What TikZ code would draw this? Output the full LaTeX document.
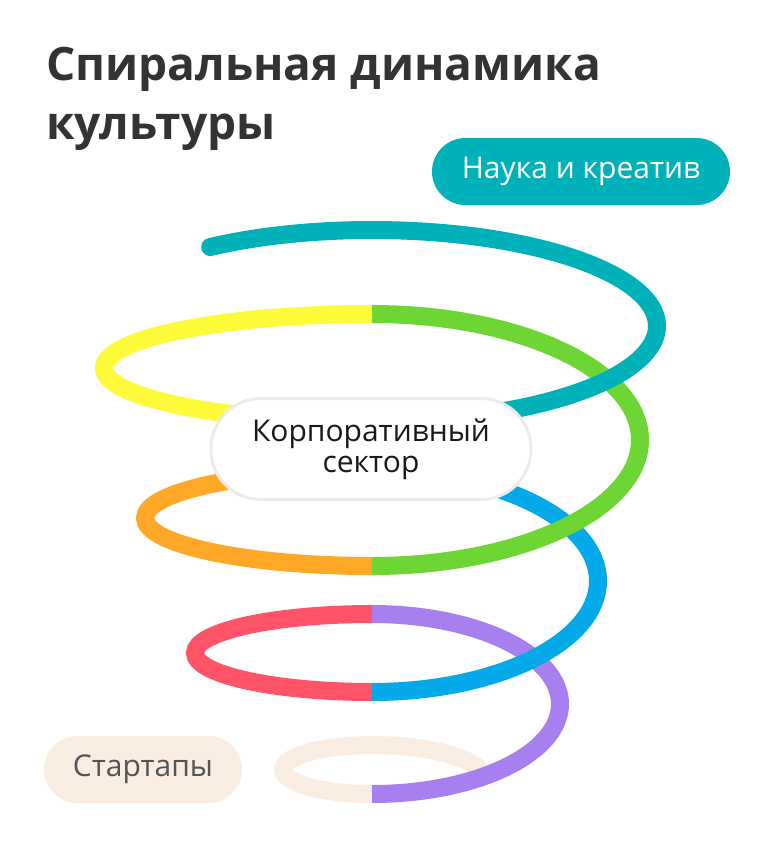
\documentclass[tikz,border=0pt]{standalone}
\usepackage{fontspec}
\setmainfont{Open Sans}
\definecolor{cteal}{HTML}{00B1B9}
\definecolor{cyellow}{HTML}{FFFB3A}
\definecolor{cgreen}{HTML}{6DD634}
\definecolor{corange}{HTML}{FFA726}
\definecolor{cblue}{HTML}{03A9E8}
\definecolor{cred}{HTML}{FF5468}
\definecolor{cpurple}{HTML}{A77FEE}
\definecolor{cbeige}{HTML}{F9EDE2}
\definecolor{ctitle}{HTML}{333333}
\definecolor{cborder}{HTML}{EBEBEB}
\begin{document}
\begin{tikzpicture}[x=1pt,y=-1pt,
  spir/.style={line width=18pt},
  titletext/.style={font=\fontsize{46}{56}\selectfont\bfseries, text=ctitle, inner sep=0pt},
  pill/.style={rounded corners=33.5pt, inner sep=0pt, minimum height=67pt, font=\fontsize{30}{34}\selectfont}]
\useasboundingbox[fill=white] (0,0) rectangle (760,860);
% spiral, drawn from the last turn to the first
\draw[spir,cbeige] (372,794) arc[start angle=90,end angle=270,x radius=89,y radius=24.5]
  arc[start angle=270,end angle=360,x radius=113,y radius=35];
\draw[spir,cpurple] (372,614) arc[start angle=270,end angle=450,x radius=188,y radius=90];
\draw[spir,cred] (372,692) arc[start angle=90,end angle=270,x radius=177,y radius=39];
\draw[spir,cblue] (372,470) arc[start angle=270,end angle=450,x radius=226,y radius=111];
\draw[spir,corange] (372,566) arc[start angle=90,end angle=270,x radius=227,y radius=48];
\draw[spir,cgreen] (372,314) arc[start angle=270,end angle=450,x radius=268,y radius=126];
\draw[spir,cyellow] (372,422) arc[start angle=90,end angle=270,x radius=268,y radius=54];
\draw[spir,cteal,line cap=round] (372,326) ++(235.4:285 and 96)
  arc[start angle=235.4,end angle=450,x radius=285,y radius=96];
% title
\node[titletext, anchor=base west] (t1) at (46,80) {Спиральная динамика};
\node[titletext, anchor=base west] (t2) at (46,139) {культуры};
% labels
\node[pill, fill=cteal, text=white, minimum width=298pt] (sci) at (581,171.5) {Наука и креатив};
\node[pill, fill=cbeige, text=black!67, minimum width=198pt] (start) at (143,769.5) {Стартапы};
\node[draw=cborder, line width=3pt, fill=white, rounded corners=50pt, minimum width=320pt,
  minimum height=101pt, inner sep=0pt, align=center, text=black!90,
  font=\fontsize{30}{31}\selectfont] (corp) at (371,449) {Корпоративный\\сектор};
\end{tikzpicture}
\end{document}
